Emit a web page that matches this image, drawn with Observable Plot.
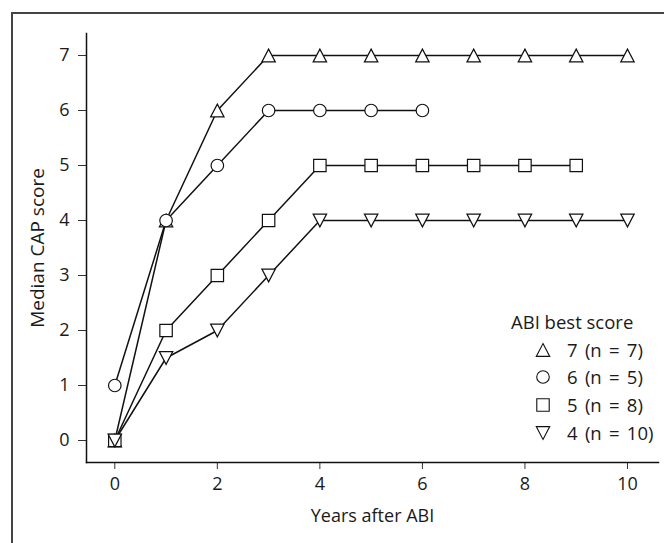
<!DOCTYPE html>
<html><head><meta charset="utf-8">
<script src="https://cdn.jsdelivr.net/npm/d3@7"></script>
<script src="https://cdn.jsdelivr.net/npm/@observablehq/plot@0.6"></script>
<style>
html,body{margin:0;padding:0;background:#fff;overflow:hidden;}
body{width:664px;height:543px;position:relative;font-family:"Open Sans",sans-serif;}
#frame{position:absolute;left:11px;top:12px;width:720px;height:620px;border:2px solid #444;box-sizing:border-box;pointer-events:none;}
#chart{position:absolute;left:0;top:0;}
#legend{position:absolute;left:511px;top:308px;font-size:18.5px;line-height:27.7px;color:#1a1a1a;white-space:nowrap;}
#legend .row{display:flex;align-items:center;height:27.7px;padding-left:24px;word-spacing:2.5px;}
#legend .row svg{width:16px;height:16px;margin-right:16px;overflow:visible;}
</style>
</head><body>
<div id="chart"></div>
<div id="legend"></div>
<div id="frame"></div>
<script>
// ---- data ----
const years = [0,1,2,3,4,5,6,7,8,9,10];
const best7 = [0,4,6,7,7,7,7,7,7,7,7];
const best6 = [1,4,5,6,6,6,6];
const best5 = [0,2,3,4,5,5,5,5,5,5];
const best4 = [0,1.5,2,3,4,4,4,4,4,4,4];
const seriesLabels = ["7 (n = 7)","6 (n = 5)","5 (n = 8)","4 (n = 10)"];
const legendTitle = "ABI best score";
const xTicks = [0,2,4,6,8,10];
const yTicks = [0,1,2,3,4,5,6,7];
const xLabel = "Years after ABI";
const yLabel = "Median CAP score";

// ---- symbols ----
const rad = s => Math.sqrt(s/Math.PI);
const triUp = {draw(c,s){const r=rad(s),w=r*1.05,h=r;c.moveTo(0,-h);c.lineTo(w,h);c.lineTo(-w,h);c.closePath();}};
const triDown = {draw(c,s){const r=rad(s),w=r*1.05,h=r;c.moveTo(0,h);c.lineTo(w,-h);c.lineTo(-w,-h);c.closePath();}};
const circ = {draw(c,s){const r=rad(s)*0.98;c.moveTo(r,0);c.arc(0,0,r,0,2*Math.PI);c.closePath();}};
const sq = {draw(c,s){const r=rad(s)*0.97;c.rect(-r,-r,2*r,2*r);}};

const rows = ys => ys.map((v,i)=>({year:years[i], v}));
const series = [
  {data: rows(best7), sym: triUp},
  {data: rows(best6), sym: circ},
  {data: rows(best5), sym: sq},
  {data: rows(best4), sym: triDown}
];
const R = 6.4;
const ink = "#111";

const marks = [
  Plot.axisX({ticks:xTicks, tickSize:7, tickPadding:8, stroke:"#333", strokeWidth:1,
    label:xLabel, labelAnchor:"center", labelOffset:59, labelArrow:"none", fontSize:18}),
  Plot.axisY({ticks:yTicks, tickSize:8, tickPadding:9, stroke:"#333", strokeWidth:1,
    label:null, fontSize:18}),
  Plot.axisY({ticks:[], tickSize:0,
    label:yLabel, labelAnchor:"center", labelOffset:56, labelArrow:"none", fontSize:19}),
  Plot.frame({anchor:"left", stroke:ink, strokeWidth:1.5}),
  Plot.frame({anchor:"bottom", stroke:ink, strokeWidth:1.5})
];
for (const s of series) {
  marks.push(Plot.line(s.data, {x:"year", y:"v", stroke:ink, strokeWidth:1.5}));
  marks.push(Plot.dot(s.data, {x:"year", y:"v", symbol:s.sym, r:R, fill:"white", stroke:ink, strokeWidth:1.2}));
}

const chart = Plot.plot({
  width:664, height:543,
  marginTop:33, marginLeft:86, marginRight:6, marginBottom:81,
  style:{fontFamily:'"Open Sans", sans-serif', fontSize:"18px", color:"#1a1a1a", background:"transparent"},
  x:{domain:[-0.552,10.605]},
  y:{domain:[-0.4,7.4]},
  marks
});
document.getElementById("chart").appendChild(chart);

// ---- legend ----
const lg = document.getElementById("legend");
const t = document.createElement("div"); t.textContent = legendTitle; lg.appendChild(t);
series.forEach((s,i)=>{
  const row = document.createElement("div"); row.className="row";
  const p = d3.path(); s.sym.draw(p, R*R*Math.PI);
  row.innerHTML = `<svg viewBox="-8 -8 16 16"><path d="${p.toString()}" fill="white" stroke="${ink}" stroke-width="1.1"/></svg><span>${seriesLabels[i]}</span>`;
  lg.appendChild(row);
});
</script>
</body></html>
